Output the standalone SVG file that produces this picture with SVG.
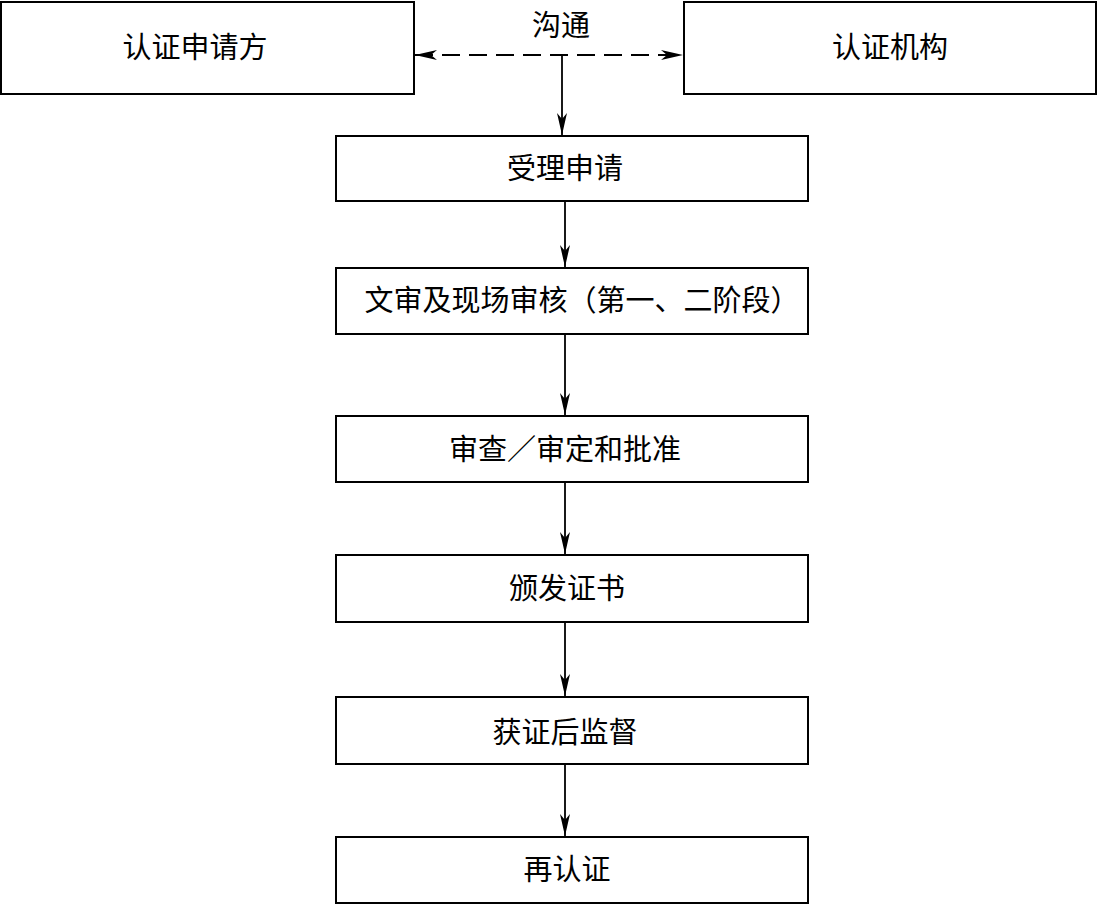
<svg xmlns="http://www.w3.org/2000/svg" width="1097" height="905" viewBox="0 0 1097 905">
<style>
.box{fill:#fff;stroke:#000;stroke-width:2}
.t{font-family:"Liberation Serif","Noto Sans CJK SC",serif;font-size:29px;fill:#000;text-anchor:middle;dominant-baseline:central}
.c{stroke:#000;stroke-width:1.8;fill:none}
</style>
<defs>
<marker id="ah" viewBox="0 0 22 12" refX="22" refY="6" markerWidth="22" markerHeight="12" markerUnits="userSpaceOnUse" orient="auto-start-reverse">
<path d="M0,1 L22,6 L0,11 L6,6 Z" fill="#000"/>
</marker>
</defs>
<rect width="1097" height="905" fill="#fff"/>
<g id="applicant"><rect class="box" x="1" y="2" width="413" height="92"/><text class="t" x="195" y="48">认证申请方</text></g>
<g id="body"><rect class="box" x="684" y="2" width="412" height="92"/><text class="t" x="890" y="48">认证机构</text></g>
<g id="accept"><rect class="box" x="336" y="136" width="472" height="65"/><text class="t" x="565" y="169">受理申请</text></g>
<g id="audit"><rect class="box" x="336" y="268" width="472" height="66"/><text class="t" x="582" y="301">文审及现场审核（第一、二阶段）</text></g>
<g id="review"><rect class="box" x="336" y="416" width="472" height="66"/><text class="t" x="565" y="450">审查／审定和批准</text></g>
<g id="issue"><rect class="box" x="336" y="555" width="472" height="67"/><text class="t" x="567" y="589">颁发证书</text></g>
<g id="surveil"><rect class="box" x="336" y="697" width="472" height="67"/><text class="t" x="565" y="733">获证后监督</text></g>
<g id="recert"><rect class="box" x="336" y="837" width="472" height="66"/><text class="t" x="567" y="870">再认证</text></g>
<g id="label"><text class="t" x="561" y="26">沟通</text></g>
<g id="connectors">
<line class="c" x1="415" y1="55" x2="683" y2="55" stroke-dasharray="18,9" marker-start="url(#ah)" marker-end="url(#ah)"/>
<line class="c" x1="562" y1="55" x2="562" y2="135" marker-end="url(#ah)"/>
<line class="c" x1="565" y1="201" x2="565" y2="267" marker-end="url(#ah)"/>
<line class="c" x1="565" y1="334" x2="565" y2="415" marker-end="url(#ah)"/>
<line class="c" x1="565" y1="482" x2="565" y2="554" marker-end="url(#ah)"/>
<line class="c" x1="565" y1="622" x2="565" y2="696" marker-end="url(#ah)"/>
<line class="c" x1="565" y1="764" x2="565" y2="836" marker-end="url(#ah)"/>
</g>
</svg>
